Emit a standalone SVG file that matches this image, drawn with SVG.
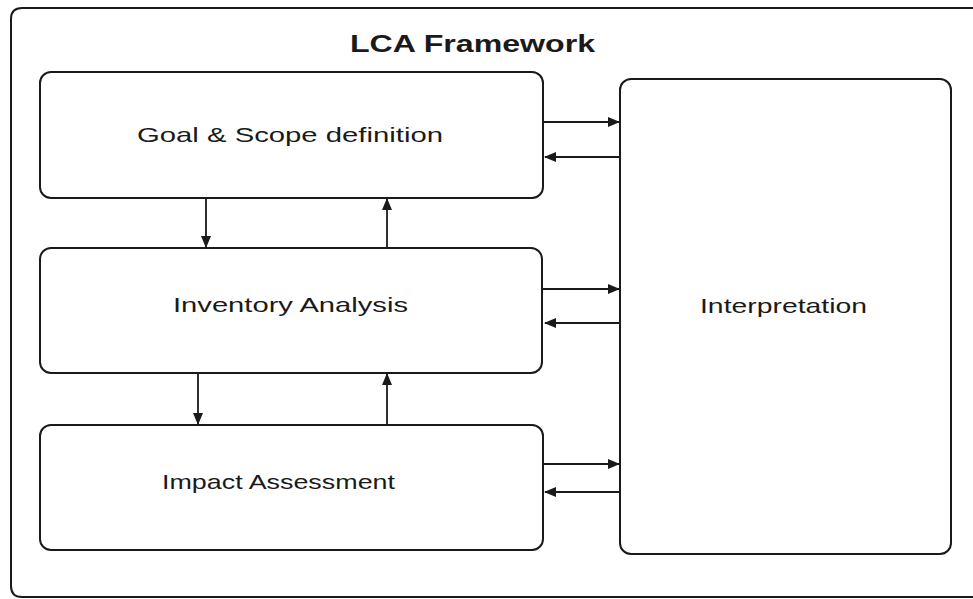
<svg xmlns="http://www.w3.org/2000/svg" width="973" height="599" viewBox="0 0 973 599">
<defs>
<style>
.box{fill:#fff;stroke:#1a1a1a;stroke-width:2}
.lbl{font-family:"Liberation Sans",Arial,sans-serif;font-size:21px;fill:#1a1a1a}
.ttl{font-family:"Liberation Sans",Arial,sans-serif;font-size:24px;font-weight:bold;fill:#1a1a1a}
.con{stroke:#1a1a1a;stroke-width:1.8;fill:none;marker-end:url(#ah)}
</style>
<marker id="ah" viewBox="0 0 12 10" refX="11" refY="5" markerWidth="12" markerHeight="10" markerUnits="userSpaceOnUse" orient="auto">
<path d="M0,0 L12,5 L0,10 Z" fill="#1a1a1a"/>
</marker>
</defs>
<rect width="973" height="599" fill="#fff"/>
<g id="frame">
<path d="M1000,8 L22,8 Q11,8 11,19 L11,586 Q11,597 22,597 L1000,597" class="box" fill="none"/>
<text class="ttl" x="350" y="52" textLength="245" lengthAdjust="spacingAndGlyphs">LCA Framework</text>
</g>
<g id="goal">
<rect class="box" x="40" y="72" width="503" height="126" rx="11"/>
<text class="lbl" x="137" y="142" textLength="306" lengthAdjust="spacingAndGlyphs">Goal &amp; Scope definition</text>
</g>
<g id="inventory">
<rect class="box" x="40" y="248" width="502" height="125" rx="11"/>
<text class="lbl" x="173" y="312" textLength="235" lengthAdjust="spacingAndGlyphs">Inventory Analysis</text>
</g>
<g id="impact">
<rect class="box" x="40" y="425" width="503" height="125" rx="11"/>
<text class="lbl" x="162" y="489" textLength="233" lengthAdjust="spacingAndGlyphs">Impact Assessment</text>
</g>
<g id="interpretation">
<rect class="box" x="620" y="79" width="331" height="475" rx="11"/>
<text class="lbl" x="700" y="313" textLength="167" lengthAdjust="spacingAndGlyphs">Interpretation</text>
</g>
<g id="connectors">
<line class="con" x1="543" y1="122" x2="619" y2="122"/>
<line class="con" x1="620" y1="157" x2="545" y2="157"/>
<line class="con" x1="542" y1="289" x2="619" y2="289"/>
<line class="con" x1="620" y1="323" x2="545" y2="323"/>
<line class="con" x1="543" y1="464" x2="619" y2="464"/>
<line class="con" x1="620" y1="492" x2="545" y2="492"/>
<line class="con" x1="206" y1="198" x2="206" y2="247"/>
<line class="con" x1="387" y1="248" x2="387" y2="199"/>
<line class="con" x1="198" y1="373" x2="198" y2="424"/>
<line class="con" x1="387" y1="425" x2="387" y2="374"/>
</g>
</svg>
